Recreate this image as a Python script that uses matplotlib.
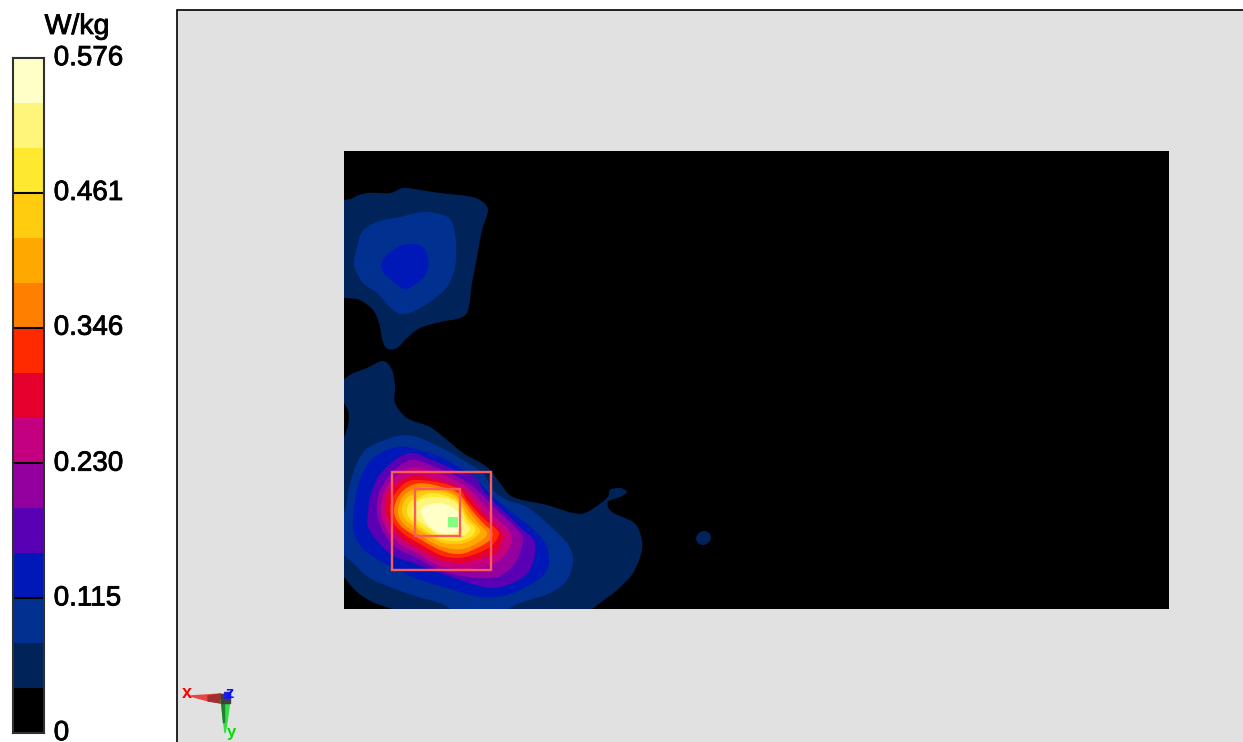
import numpy as np
import matplotlib
matplotlib.use("Agg")
import matplotlib.pyplot as plt
import matplotlib.patheffects as pe
from matplotlib.path import Path
from matplotlib.patches import PathPatch, Rectangle
from matplotlib.transforms import ScaledTranslation

# colour scale
unidad = "W/kg"
ticks_val = [0, 0.115, 0.230, 0.346, 0.461, 0.576]
ticks_txt = ["0", "0.115", "0.230", "0.346", "0.461", "0.576"]
bandas = [0, 0.0384, 0.0768, 0.1152, 0.1536, 0.192, 0.2304, 0.2688, 0.3072,
          0.3456, 0.384, 0.4224, 0.4608, 0.4992, 0.5376, 0.576]
colores = ["#000000", "#00235A", "#003090", "#0018B8", "#5A00B4", "#9400A0",
           "#C40080", "#E6002D", "#FF2A00", "#FF7F00", "#FFA800", "#FFCC10",
           "#FFE830", "#FFF57A", "#FFFFC8"]

# contour outlines (index = colour band)
sup_1 = [(335,212),(353,198),(367,193),(390,193),(403,188),(420,190),(440,193),(467,196),(480,200),(488,210),
         (482,230),(477,257),(472,283),(468,310),(460,318),(440,322),(420,328),(407,338),(397,348),(388,349),
         (383,342),(379,323),(373,310),(360,300),(335,288)]
sup_2 = [(357,247),(362,232),(377,222),(400,217),(423,212),(443,215),(452,222),(456,243),(455,267),(447,287),
         (430,302),(412,312),(400,314),(390,307),(377,293),(363,283),(354,265)]
sup_3 = [(381,265),(385,257),(393,250),(403,245),(415,244),(424,248),(428,258),(428,268),(424,277),(416,284),
         (407,289),(400,287),(391,280),(384,273)]
punto_1 = [(696,538),(699,533),(704,531),(709,533),(711,538),(708,543),(703,545),(698,543)]

inf_1 = [(335,388),(350,375),(367,368),(383,361),(392,370),(395,387),(395,403),(407,418),(430,427),(447,440),
         (463,453),(487,467),(500,483),(513,497),(547,505),(573,513),(587,512),(607,498),(610,490),(620,488),
         (627,492),(620,497),(608,502),(612,512),(633,522),(640,533),(642,550),(633,573),(617,590),(600,603),
         (592,609),(580,616),(400,616),(392,609),(372,602),(356,591),(344,577),(335,565),(335,440),(344,437),
         (349,417),(344,403),(335,398)]
inf_2 = [(335,535),(345,510),(350,483),(360,457),(373,445),(407,435),(440,447),(463,460),(483,473),(493,490),
         (507,500),(527,507),(547,523),(567,543),(573,560),(567,580),(550,593),(520,603),(495,614),(463,614),
         (440,603),(415,596),(373,580),(353,563),(335,545)]
inf_3 = [(353,525),(356,495),(362,475),(373,458),(397,447),(420,450),(447,460),(473,477),(493,497),(513,513),
         (537,533),(548,550),(547,570),(533,583),(507,595),(480,597),(447,588),(415,578),(373,557),(358,542)]
inf_4 = [(368,513),(370,497),(378,477),(395,460),(412,453),(432,460),(455,470),(475,477),(483,490),(495,503),
         (520,527),(535,543),(530,570),(513,583),(490,588),(460,580),(415,564),(392,555),(378,542),(368,527)]
inf_5 = [(377,513),(380,490),(395,470),(412,460),(435,467),(458,477),(477,490),(497,510),(515,527),(523,540),
         (515,563),(497,577),(470,577),(440,570),(415,557),(398,549),(385,535)]
inf_6 = [(381,513),(385,490),(398,475),(415,468),(438,473),(458,482),(470,490),(490,512),(507,528),(512,540),
         (505,555),(490,565),(467,569),(440,566),(415,552),(400,544),(388,531)]
inf_7 = [(386,513),(388,493),(402,480),(418,475),(438,480),(458,487),(467,493),(483,513),(500,530),(503,538),
         (497,552),(483,558),(463,563),(440,560),(415,547),(403,540),(392,527)]
inf_8 = [(390,512),(393,497),(405,483),(418,480),(442,483),(460,490),(467,500),(482,517),(497,530),(498,537),
         (490,547),(473,555),(457,558),(440,555),(415,541),(405,535),(395,525)]
inf_9 = [(394,512),(398,497),(408,487),(422,483),(442,487),(458,493),(470,508),(482,522),(492,532),(490,540),
         (477,548),(460,554),(440,550),(415,536),(400,525)]
inf_10 = [(398,512),(402,498),(412,490),(425,487),(445,490),(458,497),(470,513),(480,525),(487,533),(482,540),
          (463,549),(440,546),(415,532),(403,523)]
inf_11 = [(402,512),(405,500),(415,493),(428,490),(448,493),(460,502),(468,517),(478,527),(480,532),(473,539),
          (460,544),(440,542),(420,530),(407,521)]
inf_12 = [(407,512),(410,502),(420,497),(432,493),(450,497),(460,505),(467,520),(475,528),(472,536),(458,541),
          (440,539),(425,530),(412,521)]
inf_13 = [(412,512),(415,503),(425,498),(435,497),(452,500),(460,508),(465,522),(470,528),(465,535),(453,538),
          (440,536),(427,527),(416,519)]
inf_14 = [(421,512),(425,506),(437,503),(450,506),(458,512),(462,522),(460,530),(450,534),(437,532),(427,524)]

contornos = [(1, sup_1), (2, sup_2), (3, sup_3), (1, punto_1), (1, inf_1), (2, inf_2), (3, inf_3),
             (4, inf_4), (5, inf_5), (6, inf_6), (7, inf_7), (8, inf_8), (9, inf_9), (10, inf_10),
             (11, inf_11), (12, inf_12), (13, inf_13), (14, inf_14)]


def Contorno(puntos):  # closed smooth path through the outline points
    p = np.array(puntos, dtype=float)
    n = len(p)
    verts = [p[0]]
    codes = [Path.MOVETO]
    for i in range(n):
        a, b, c, d = p[i-1], p[i], p[(i+1) % n], p[(i+2) % n]
        verts += [b + (c-a)/6, c - (d-b)/6, c]
        codes += [Path.CURVE4]*3
    return Path(verts, codes)


plt.rcParams['font.family'] = ['Liberation Sans', 'DejaVu Sans']
fig = plt.figure(figsize=(12.43, 7.42), dpi=100, facecolor="white")
trazo = [pe.withStroke(linewidth=0.6, foreground="black")]

# main view, one unit = one pixel
ax = fig.add_axes([0, 0, 1, 1])
ax.set_xlim(0, 1243)
ax.set_ylim(742, 0)
ax.axis("off")
ax.add_patch(Rectangle((177, 10), 1070, 740, fc="#E1E1E1", ec="black", lw=1.2))
area = Rectangle((344, 151), 825, 458, fc="black", ec="none")
ax.add_patch(area)

for nivel, puntos in contornos:
    parche = PathPatch(Contorno(puntos), fc=colores[nivel], ec="none")
    ax.add_patch(parche)
    parche.set_clip_path(area)

# zoom cubes and peak marker
ax.add_patch(Rectangle((392, 472), 99, 98, fc="none", ec="#FF5A5A", lw=1.7))
ax.add_patch(Rectangle((415, 489), 45, 47, fc="none", ec="#FF5A5A", lw=1.7))
ax.add_patch(Rectangle((448, 517), 10, 10, fc="#80FF80", ec="none"))

# axis triad
ax.fill([190, 221, 221, 205], [696, 694, 703, 700], color="#E84545")
ax.fill([208, 221, 221, 208], [696, 694, 703, 701], color="#A03030")
ax.fill([221, 230, 227, 225], [700, 700, 722, 733], color="#30E040")
ax.fill([221, 224, 224, 223], [700, 700, 722, 722], color="#208030")
ax.fill([221, 230, 230, 221], [694, 694, 703, 703], color="#404040")
ax.fill([224, 230, 230, 224], [692, 692, 698, 698], color="#2020E0")
ax.text(187, 694, "x", color="#FF0000", fontsize=13, fontweight="bold", ha="center", va="center")
ax.text(230, 693, "z", color="#1010FF", fontsize=12, fontweight="bold", ha="center", va="center")
ax.text(231, 733, "y", color="#00E000", fontsize=12, fontweight="bold", ha="center", va="center")

# colour bar
cb = fig.add_axes([13/1243, 9/742, 31/1243, 675/742])
cb.bar(0, np.diff(bandas), bottom=bandas[:-1], width=1, color=colores)
cb.set_xlim(-0.5, 0.5)
cb.set_ylim(0, 0.576)
cb.set_xticks([])
cb.hlines(ticks_val[1:-1], -0.5, 0.5, color="black", lw=1.5)
cb.yaxis.tick_right()
cb.set_yticks(ticks_val)
cb.set_yticklabels(ticks_txt, fontsize=20, color="black", path_effects=trazo)
cb.tick_params(axis="y", length=0, pad=7)
for et in cb.get_yticklabels():
    et.set_transform(et.get_transform() + ScaledTranslation(0, 2/72, fig.dpi_scale_trans))
for s in cb.spines.values():
    s.set_color("#303030")
    s.set_linewidth(1.5)
ax.text(77, 27, unidad, fontsize=20.5, ha="center", va="center", color="black", path_effects=trazo)

fig.savefig("out.png", dpi=100)
